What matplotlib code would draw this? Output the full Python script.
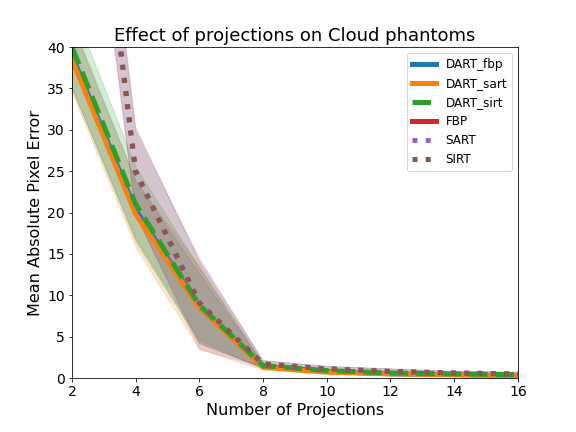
import numpy as np
import matplotlib
matplotlib.use("Agg")
import matplotlib.pyplot as plt

# Number of projections
projections = [2, 4, 6, 8, 10, 12, 14, 16]

# Mean absolute pixel error per method
dart_fbp = [39.0, 20.3, 8.6, 1.4, 0.8, 0.5, 0.4, 0.3]
dart_sart = [38.5, 19.8, 8.5, 1.3, 0.7, 0.5, 0.4, 0.3]
dart_sirt = [40.0, 21.0, 8.8, 1.5, 0.9, 0.6, 0.5, 0.4]
fbp = [95.0, 70.0, 60.0, 55.0, 52.0, 50.0, 48.0, 47.0]
sart = [86.0, 24.8, 9.0, 1.7, 1.1, 0.8, 0.6, 0.5]
sirt = [88.0, 25.0, 9.1, 1.7, 1.1, 0.8, 0.6, 0.5]

# Standard deviations (shaded bands)
dart_fbp_std = [4.0, 3.5, 4.0, 0.3, 0.2, 0.1, 0.1, 0.1]
dart_sart_std = [4.0, 4.0, 5.0, 0.3, 0.2, 0.1, 0.1, 0.1]
dart_sirt_std = [5.0, 4.5, 4.5, 0.3, 0.2, 0.1, 0.1, 0.1]
fbp_std = [5.0, 4.0, 4.0, 3.0, 3.0, 3.0, 3.0, 3.0]
sart_std = [6.0, 5.0, 5.5, 0.4, 0.3, 0.3, 0.2, 0.2]
sirt_std = [6.0, 5.3, 5.0, 0.4, 0.3, 0.3, 0.2, 0.2]

labels = ["DART_fbp", "DART_sart", "DART_sirt", "FBP", "SART", "SIRT"]
means = [dart_fbp, dart_sart, dart_sirt, fbp, sart, sirt]
stds = [dart_fbp_std, dart_sart_std, dart_sirt_std, fbp_std, sart_std, sirt_std]
styles = ["-", "-", "--", "-", ":", ":"]
colors = ["tab:blue", "tab:orange", "tab:green", "tab:red", "tab:purple", "tab:brown"]

fig = plt.figure(figsize=(8, 6), dpi=72)
ax = fig.add_axes([0.125, 0.125, 0.774, 0.766])

x = np.array(projections)
for m, s, lab, ls, c in zip(means, stds, labels, styles, colors):
    m = np.array(m)
    s = np.array(s)
    ax.plot(x, m, ls, color=c, linewidth=5, label=lab)
    ax.fill_between(x, m - s, m + s, color=c, alpha=0.2)

ax.set_xlim(2, 16)
ax.set_ylim(0, 40)
ax.set_title("Effect of projections on Cloud phantoms", fontsize=18)
ax.set_xlabel("Number of Projections", fontsize=16)
ax.set_ylabel("Mean Absolute Pixel Error", fontsize=16)
ax.tick_params(labelsize=14)
ax.legend(loc="upper right", fontsize=12)

plt.savefig("out.png", dpi=72)
